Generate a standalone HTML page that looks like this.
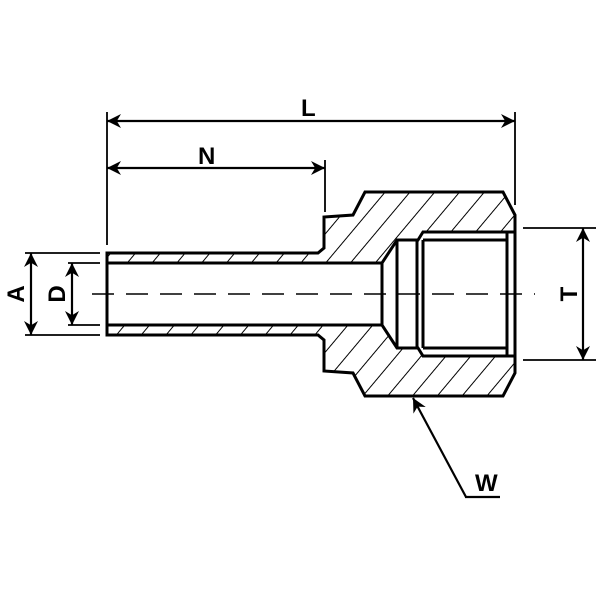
<!DOCTYPE html>
<html><head><style>body{margin:0;background:#fff}svg{display:block}text{font-family:"Liberation Sans",sans-serif;font-weight:bold;font-size:24px}</style></head><body>
<svg width="600" height="600" viewBox="0 0 600 600">
<defs>
<pattern id="h" width="19" height="19" patternUnits="userSpaceOnUse" patternTransform="rotate(40)">
<line x1="0" y1="0" x2="0" y2="19" stroke="#000" stroke-width="2"/>
</pattern>
<marker id="ab" viewBox="0 0 10 10" refX="10" refY="5" markerWidth="22" markerHeight="14" markerUnits="userSpaceOnUse" orient="auto-start-reverse">
<path d="M0,0 L10,5 L0,10 L3,5 z" fill="#000"/>
</marker>
</defs>
<g stroke="#000" stroke-width="3" fill="url(#h)" stroke-linejoin="miter">
<path d="M107,253 L318,253 L324,248 L324,217 L353,215 L365,192 L503,192 L515,215 L515,232 L423,232 L418,240 L397,240 L382,263 L107,263 Z"/>
<path d="M107,335 L318,335 L324,340 L324,371 L353,373 L365,396 L503,396 L515,373 L515,356 L423,356 L418,348 L397,348 L382,325 L107,325 Z"/>
</g>
<g stroke="#000" stroke-width="3" fill="none">
<line x1="107" y1="253" x2="107" y2="335"/>
<line x1="382" y1="263" x2="382" y2="325"/>
<line x1="397" y1="240" x2="397" y2="348"/>
<line x1="417" y1="240" x2="417" y2="348"/>
<line x1="423" y1="240" x2="423" y2="348"/>
<line x1="423" y1="240" x2="507" y2="240"/>
<line x1="423" y1="348" x2="507" y2="348"/>
<line x1="507" y1="232" x2="507" y2="356"/>
<line x1="515" y1="215" x2="515" y2="373"/>
</g>
<line x1="92" y1="294" x2="535" y2="294" stroke="#000" stroke-width="1.5" stroke-dasharray="22,12"/>
<g stroke="#000" stroke-width="1.8" fill="none">
<line x1="107" y1="112" x2="107" y2="245"/>
<line x1="515" y1="112" x2="515" y2="205"/>
<line x1="325" y1="160" x2="325" y2="212"/>
<line x1="25" y1="253" x2="100" y2="253"/>
<line x1="25" y1="335" x2="100" y2="335"/>
<line x1="68" y1="263" x2="100" y2="263"/>
<line x1="68" y1="325" x2="100" y2="325"/>
<line x1="523" y1="228" x2="596" y2="228"/>
<line x1="523" y1="360" x2="596" y2="360"/>
</g>
<g stroke="#000" stroke-width="2.2" fill="none" marker-start="url(#ab)" marker-end="url(#ab)">
<line x1="107" y1="121" x2="515" y2="121"/>
<line x1="107" y1="168" x2="325" y2="168"/>
<line x1="31" y1="253" x2="31" y2="335"/>
<line x1="72" y1="263" x2="72" y2="325"/>
<line x1="583" y1="228" x2="583" y2="360"/>
</g>
<polyline points="466,497 413,398" stroke="#000" stroke-width="2.2" fill="none" marker-end="url(#ab)"/>
<line x1="465" y1="497" x2="500" y2="497" stroke="#000" stroke-width="2.2"/>
<text x="301" y="116">L</text>
<text x="198" y="164">N</text>
<text x="475" y="491">W</text>
<text transform="translate(24,294) rotate(-90)" text-anchor="middle">A</text>
<text transform="translate(65,294) rotate(-90)" text-anchor="middle">D</text>
<text transform="translate(577,294) rotate(-90)" text-anchor="middle">T</text>
</svg>
</body></html>
